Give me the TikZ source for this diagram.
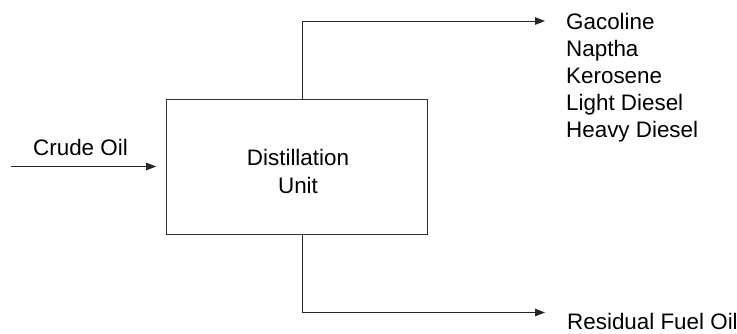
\documentclass[tikz,border=0pt]{standalone}
\usepackage{fontspec}
\setmainfont{Liberation Sans}
\usetikzlibrary{arrows.meta}
\begin{document}
\begin{tikzpicture}[x=1pt,y=-1pt,
  conn/.style={line width=1pt,draw=black!85,-{Triangle[length=10pt,width=7.5pt]}},
  unitbox/.style={draw=black!80,line width=1pt,minimum width=261.3pt,minimum height=135pt,inner sep=0pt},
  txt/.style={inner sep=0pt,font=\fontsize{22.4}{27}\selectfont}]
\useasboundingbox (0,0) rectangle (737,333);
\node[unitbox] (unit) at (297.3,166.5) {};
\node[txt,align=center,anchor=base] (unitlabel) at (298,193) {Distillation\\[1pt]Unit};
\node[txt,anchor=base] (crude) at (80.5,155) {Crude Oil};
\node[txt,align=left,anchor=base west] (products) at (566,137) {Gacoline\\Naptha\\Kerosene\\Light Diesel\\Heavy Diesel};
\node[txt,anchor=base west] (residual) at (567,329) {Residual Fuel Oil};
\coordinate (crudestart) at (11,166.5);
\coordinate (topend) at (545,21);
\coordinate (botend) at (545,312.5);
\draw[conn] (crudestart) -- ([xshift=-10pt]unit.west);
\draw[conn] ([xshift=4.7pt]unit.north) |- (topend);
\draw[conn] ([xshift=4.7pt]unit.south) |- (botend);
\end{tikzpicture}
\end{document}
